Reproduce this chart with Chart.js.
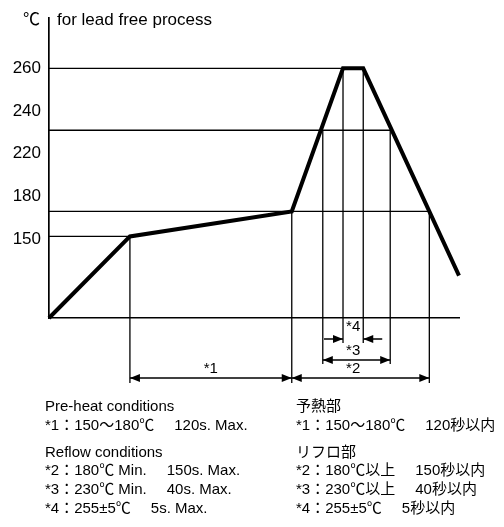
<!DOCTYPE html>
<html><head><meta charset="utf-8">
<script src="https://cdn.jsdelivr.net/npm/chart.js@4.4.1/dist/chart.umd.min.js"></script>
<style>
html,body{margin:0;padding:0;background:#fff;}
#wrap{position:relative;width:504px;height:527px;overflow:hidden;font-family:"Liberation Sans","Noto Sans CJK JP",sans-serif;color:#000;}
#c{position:absolute;left:0;top:0;}
.t{position:absolute;white-space:pre;font-size:15px;line-height:15px;}
.g{display:inline-block;width:20px;}
</style></head>
<body><div id="wrap"><canvas id="c" width="504" height="527"></canvas>
<div class="t" style="left:23px;top:10.6px;font-size:17px;line-height:17px">℃</div>
<div class="t" style="left:57px;top:10.6px;font-size:17px;line-height:17px">for lead free process</div>

<div class="t" style="left:45px;top:397.5px">Pre-heat conditions</div>
<div class="t" style="left:45px;top:416.5px">*1：150〜180℃<span class="g"></span>120s. Max.</div>
<div class="t" style="left:45px;top:443.5px">Reflow conditions</div>
<div class="t" style="left:45px;top:462px">*2：180℃ Min.<span class="g"></span>150s. Max.</div>
<div class="t" style="left:45px;top:481px">*3：230℃ Min.<span class="g"></span>40s. Max.</div>
<div class="t" style="left:45px;top:499.5px">*4：255±5℃<span class="g"></span>5s. Max.</div>

<div class="t" style="left:296px;top:397.5px">予熱部</div>
<div class="t" style="left:296px;top:416.5px">*1：150〜180℃<span class="g"></span>120秒以内</div>
<div class="t" style="left:296px;top:443.5px">リフロ部</div>
<div class="t" style="left:296px;top:462px">*2：180℃以上<span class="g"></span>150秒以内</div>
<div class="t" style="left:296px;top:481px">*3：230℃以上<span class="g"></span>40秒以内</div>
<div class="t" style="left:296px;top:499.5px">*4：255±5℃<span class="g"></span>5秒以内</div>
</div>
<script>
// ---- data (schematic reflow profile) ----
const tickLabels = ['260', '240', '220', '180', '150'];
const profileTime = [0, 60, 180, 218, 233, 304];      // s
const profileTemp = [25, 150, 180, 260, 260, 90];     // °C
const hGuideTemp = [260, 230, 180, 150];
const hGuideEnd = [218, 253, 282, 60];
const vGuideTime = [60, 180, 203, 218, 233, 253, 282];
const vGuideTemp = [150, 180, 230, 260, 260, 230, 180];
const spanName = ['*1', '*2', '*3', '*4'];
const spanStart = [60, 180, 203, 218];
const spanEnd = [180, 282, 253, 233];

// ---- layout of the schematic (non-linear) temperature axis ----
const Y_ANCHOR_VAL = [25, 150, 180, 230, 260, 285];
const Y_ANCHOR_DEC = [0, 0.2721, 0.3557, 0.6262, 0.8328, 1];

class PiecewiseScale extends Chart.LinearScale {
  _toDecimal(v) {
    const a = Y_ANCHOR_VAL, d = Y_ANCHOR_DEC;
    let i = 1;
    while (i < a.length - 1 && v > a[i]) i++;
    return d[i - 1] + (v - a[i - 1]) * (d[i] - d[i - 1]) / (a[i] - a[i - 1]);
  }
  getPixelForValue(v) {
    return v == null ? NaN : this.getPixelForDecimal(this._toDecimal(v));
  }
  getValueForPixel(p) {
    const dec = this.getDecimalForPixel(p), a = Y_ANCHOR_VAL, d = Y_ANCHOR_DEC;
    let i = 1;
    while (i < d.length - 1 && dec > d[i]) i++;
    return a[i - 1] + (dec - d[i - 1]) * (a[i] - a[i - 1]) / (d[i] - d[i - 1]);
  }
}
PiecewiseScale.id = 'piecewise';
PiecewiseScale.defaults = {};
Chart.register(PiecewiseScale);

Chart.defaults.font.family = '"Liberation Sans", "Noto Sans CJK JP", sans-serif';
Chart.defaults.color = '#000';

function head(ctx, x, y, dir, len, hw) {
  ctx.beginPath();
  ctx.moveTo(x, y);
  ctx.lineTo(x - dir * len, y - hw);
  ctx.lineTo(x - dir * len, y + hw);
  ctx.closePath();
  ctx.fill();
}

const guides = {
  id: 'guides',
  beforeDatasetsDraw(chart, args, opts) {
    const {ctx, chartArea, scales: {x, y}} = chart;
    ctx.save();
    ctx.strokeStyle = '#000';
    ctx.lineWidth = opts.lineWidth;
    vGuideTime.forEach((t, i) => {
      const px = x.getPixelForValue(t);
      ctx.beginPath();
      ctx.moveTo(px, y.getPixelForValue(vGuideTemp[i]));
      ctx.lineTo(px, chartArea.bottom + opts.drop[opts.vRow[i]]);
      ctx.stroke();
    });
    ctx.restore();
  },
  afterDraw(chart, args, opts) {
    const {ctx, chartArea, scales: {x}} = chart;
    ctx.save();
    ctx.strokeStyle = '#000';
    ctx.fillStyle = '#000';
    ctx.lineWidth = opts.lineWidth;
    ctx.font = opts.font;
    ctx.textAlign = 'center';
    ctx.textBaseline = 'middle';
    spanName.forEach((name, i) => {
      const row = opts.spanRow[i];
      const yy = chartArea.bottom + opts.arrowY[row];
      const a = x.getPixelForValue(spanStart[i]);
      const b = x.getPixelForValue(spanEnd[i]);
      if (opts.outward[i]) {
        ctx.beginPath();
        ctx.moveTo(a - opts.outLen, yy); ctx.lineTo(a, yy);
        ctx.moveTo(b + opts.outLen, yy); ctx.lineTo(b, yy);
        ctx.stroke();
        head(ctx, a, yy, 1, opts.headLen, opts.headHW);
        head(ctx, b, yy, -1, opts.headLen, opts.headHW);
      } else {
        ctx.beginPath();
        ctx.moveTo(a, yy); ctx.lineTo(b, yy);
        ctx.stroke();
        head(ctx, b, yy, 1, opts.headLen, opts.headHW);
        head(ctx, a, yy, -1, opts.headLen, opts.headHW);
      }
      const ls = opts.labelSpan[i];
      const lx = (x.getPixelForValue(spanStart[ls]) + x.getPixelForValue(spanEnd[ls])) / 2;
      ctx.fillText(name, lx, chartArea.bottom + opts.labelY[row]);
    });
    ctx.restore();
  }
};

new Chart(document.getElementById('c'), {
  type: 'line',
  data: {
    datasets: [
      {
        data: profileTime.map((t, i) => ({x: t, y: profileTemp[i]})),
        borderColor: '#000', borderWidth: 4, borderJoinStyle: 'miter', borderCapStyle: 'butt',
        pointRadius: 0, clip: false, fill: false
      },
      ...hGuideTemp.map((T, i) => ({
        data: [{x: 0, y: T}, {x: hGuideEnd[i], y: T}],
        borderColor: '#000', borderWidth: 1.3, pointRadius: 0, fill: false, clip: false
      }))
    ]
  },
  options: {
    responsive: false,
    animation: false,
    events: [],
    layout: {padding: {left: 0, top: 13, right: 45, bottom: 209}},
    plugins: {
      legend: {display: false},
      tooltip: {enabled: false},
      guides: {
        lineWidth: 1.3,
        font: '15px "Liberation Sans", sans-serif',
        vRow: ['long', 'long', 'mid', 'short', 'short', 'mid', 'long'],
        spanRow: ['long', 'long', 'mid', 'short'],
        outward: [false, false, false, true],
        labelSpan: [0, 3, 3, 3],
        drop: {long: 65, mid: 46, short: 25},
        arrowY: {long: 60, mid: 42, short: 21},
        labelY: {long: 51, mid: 33, short: 9},
        outLen: 19, headLen: 10, headHW: 4
      }
    },
    scales: {
      x: {
        type: 'linear', min: 0, max: 304, position: 'bottom',
        ticks: {display: false},
        grid: {display: false, drawTicks: false},
        border: {display: true, color: '#000', width: 1.5},
        afterFit: s => { s.height = 0; }
      },
      y: {
        type: 'piecewise', display: false, min: 25, max: 285
      },
      yl: {
        type: 'linear', position: 'left', reverse: true, bounds: 'data',
        min: -1.17, max: 5.853,
        grid: {display: false, drawTicks: false},
        border: {display: true, color: '#000', width: 1.7},
        ticks: {
          padding: 8, autoSkip: false, color: '#000',
          font: {size: 17, family: '"Liberation Sans", sans-serif'},
          callback: v => tickLabels[v]
        },
        afterBuildTicks: s => { s.ticks = tickLabels.map((_, i) => ({value: i})); },
        afterFit: s => { s.width = 49; }
      }
    }
  },
  plugins: [guides]
});
</script>
</body></html>
